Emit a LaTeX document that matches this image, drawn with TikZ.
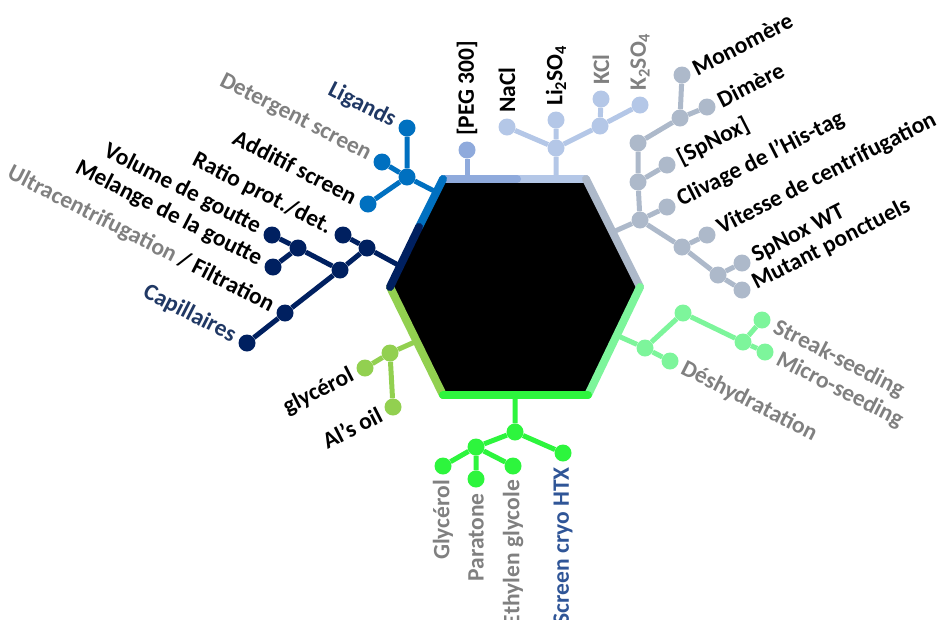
\documentclass[tikz,border=0pt]{standalone}
\usepackage{fontspec}
\setmainfont{Carlito}
\usepackage{tikz}
\usetikzlibrary{positioning}
\definecolor{ligblue}{HTML}{0070C0}
\definecolor{capnavy}{HTML}{002060}
\definecolor{pegblue}{HTML}{8FAADC}
\definecolor{saltblue}{HTML}{B4C7E7}
\definecolor{protslate}{HTML}{ADB9CA}
\definecolor{seedmint}{HTML}{7DF59B}
\definecolor{cryogreen}{HTML}{2DF53D}
\definecolor{oilolive}{HTML}{92D050}
\definecolor{txtgray}{HTML}{808080}
\definecolor{txtnavy}{HTML}{203864}
\definecolor{txtblue}{HTML}{2F5597}

\begin{document}
\begin{tikzpicture}[
  x=1pt, y=-1pt,
  dot/.style={circle, fill=#1, inner sep=0pt, minimum size=17pt},
  dot/.default={ligblue},
  twig/.style={draw=#1, line width=5pt},
  rim/.style={draw=#1, line width=8pt, line cap=round},
  lbl/.style={font=\fontsize{23.5}{25}\selectfont\bfseries, inner sep=1pt, text=#1},
  lbl/.default={black},
  tagNW/.style={rotate=-27, anchor=east, xshift=-13pt},
  tagNE/.style={rotate=27, anchor=west, xshift=12pt},
  tagSE/.style={rotate=-27, anchor=west, xshift=13pt},
  tagSW/.style={rotate=27, anchor=east, xshift=-13pt},
  tagN/.style={rotate=90, anchor=west, xshift=13pt},
  tagS/.style={rotate=90, anchor=east, xshift=-13pt},
]
  \useasboundingbox (0,0) rectangle (939,619);

  % Hexagon corners
  \coordinate (hTL) at (443,179);
  \coordinate (hT)  at (517,179);
  \coordinate (hTR) at (586,179);
  \coordinate (hR)  at (640,287);
  \coordinate (hBR) at (588,395);
  \coordinate (hBL) at (443,395);
  \coordinate (hL)  at (390,287);
  \coordinate (hLm) at (419,227);

  % Ligands (upper left)
  \coordinate (ligrim) at (436,192);
  \node[dot=ligblue] (ligj) at (407,177) {};
  \node[dot=ligblue] (lig) at (407,128) {};
  \node[dot=ligblue] (det) at (382,162) {};
  \node[dot=ligblue] (add) at (368,204) {};
  \draw[twig=ligblue] (ligrim) -- (ligj) (ligj) -- (lig) (ligj) -- (det) (ligj) -- (add);
  \node[lbl=txtnavy, tagNW] (liglbl) at (lig) {Ligands};
  \node[lbl=txtgray, tagNW] (detlbl) at (det) {Detergent screen};
  \node[lbl, tagNW] (addlbl) at (add) {Additif screen};

  % Capillaires (left)
  \coordinate (caprim) at (400,266);
  \node[dot=capnavy] (capB) at (367,248) {};
  \node[dot=capnavy] (ratio) at (343,235) {};
  \node[dot=capnavy] (capC) at (340,270) {};
  \node[dot=capnavy] (capA) at (298,248) {};
  \node[dot=capnavy] (vol) at (272,235) {};
  \node[dot=capnavy] (mel) at (273,267) {};
  \node[dot=capnavy] (filt) at (285,313) {};
  \node[dot=capnavy] (capi) at (247,343) {};
  \draw[twig=capnavy] (caprim) -- (capB) (capB) -- (ratio) (capB) -- (capC)
    (capC) -- (capA) (capA) -- (vol) (capA) -- (mel) (capC) -- (filt) (filt) -- (capi);
  \node[lbl, tagNW] (ratiolbl) at (ratio) {Ratio prot./det.};
  \node[lbl, tagNW] (vollbl) at (vol) {Volume de goutte};
  \node[lbl, tagNW] (mellbl) at (mel) {Melange de la goutte};
  \node[lbl, tagNW] (filtlbl) at (filt) {\textcolor{txtgray}{Ultracentrifugation} / Filtration};
  \node[lbl=txtnavy, tagNW] (capilbl) at (capi) {Capillaires};

  % PEG and salts (top)
  \coordinate (pegrim) at (467,179);
  \node[dot=pegblue] (peg) at (467,150) {};
  \draw[twig=pegblue] (pegrim) -- (peg);
  \coordinate (saltrim) at (556,179);
  \node[dot=saltblue] (saltj) at (556,148) {};
  \node[dot=saltblue] (nacl) at (507,127) {};
  \node[dot=saltblue] (li) at (556,120) {};
  \node[dot=saltblue] (kj) at (600,126) {};
  \node[dot=saltblue] (kcl) at (601,99) {};
  \node[dot=saltblue] (kso) at (640,105) {};
  \draw[twig=saltblue] (saltrim) -- (saltj) (saltj) -- (nacl) (saltj) -- (li)
    (saltj) -- (kj) (kj) -- (kcl) (kj) -- (kso);
  \node[lbl, tagN] (peglbl) at (peg) {[PEG 300]};
  \node[lbl, tagN] (nacllbl) at (nacl) {NaCl};
  \node[lbl, tagN] (lilbl) at (li) {Li\textsubscript{2}SO\textsubscript{4}};
  \node[lbl=txtgray, tagN] (kcllbl) at (kcl) {KCl};
  \node[lbl=txtgray, tagN] (ksolbl) at (kso) {K\textsubscript{2}SO\textsubscript{4}};

  % Protein (upper right)
  \coordinate (protrim) at (613,232);
  \node[dot=protslate] (protP) at (640,220) {};
  \node[dot=protslate] (protO) at (638,182) {};
  \node[dot=protslate] (protN) at (638,143) {};
  \node[dot=protslate] (protM) at (680,118) {};
  \node[dot=protslate] (mono) at (682,75) {};
  \node[dot=protslate] (dim) at (707,107) {};
  \node[dot=protslate] (spn) at (667,165) {};
  \node[dot=protslate] (cliv) at (667,207) {};
  \node[dot=protslate] (protQ) at (682,247) {};
  \node[dot=protslate] (vit) at (707,235) {};
  \node[dot=protslate] (protR) at (718,275) {};
  \node[dot=protslate] (wt) at (742,263) {};
  \node[dot=protslate] (mut) at (742,290) {};
  \draw[twig=protslate] (protrim) -- (protP) (protP) -- (protO) (protO) -- (protN)
    (protN) -- (protM) (protM) -- (mono) (protM) -- (dim) (protO) -- (spn)
    (protP) -- (cliv) (protP) -- (protQ) (protQ) -- (vit) (protQ) -- (protR)
    (protR) -- (wt) (protR) -- (mut);
  \node[lbl, tagNE] (monolbl) at (mono) {Monomère};
  \node[lbl, tagNE] (dimlbl) at (dim) {Dimère};
  \node[lbl, tagNE] (spnlbl) at (spn) {[SpNox]};
  \node[lbl, tagNE] (clivlbl) at (cliv) {Clivage de l’His-tag};
  \node[lbl, tagNE] (vitlbl) at (vit) {Vitesse de centrifugation};
  \node[lbl, tagNE] (wtlbl) at (wt) {SpNox WT};
  \node[lbl, tagNE] (mutlbl) at (mut) {Mutant ponctuels};

  % Seeding (lower right)
  \coordinate (seedrim) at (616,335);
  \node[dot=seedmint] (seedS) at (645,348) {};
  \node[dot=seedmint] (dehyd) at (670,361) {};
  \node[dot=seedmint] (seedT) at (683,313) {};
  \node[dot=seedmint] (seedU) at (743,342) {};
  \node[dot=seedmint] (streak) at (762,320) {};
  \node[dot=seedmint] (micro) at (765,352) {};
  \draw[twig=seedmint] (seedrim) -- (seedS) (seedS) -- (dehyd) (seedS) -- (seedT)
    (seedT) -- (seedU) (seedU) -- (streak) (seedU) -- (micro);
  \node[lbl=txtgray, tagSE] (streaklbl) at (streak) {Streak-seeding};
  \node[lbl=txtgray, tagSE] (microlbl) at (micro) {Micro-seeding};
  \node[lbl=txtgray, tagSE] (dehydlbl) at (dehyd) {Déshydratation};

  % Oils (lower left)
  \coordinate (oilrim) at (417,341);
  \node[dot=oilolive] (oilV) at (390,353) {};
  \node[dot=oilolive] (glyc) at (365,368) {};
  \node[dot=oilolive] (alsoil) at (393,407) {};
  \draw[twig=oilolive] (oilrim) -- (oilV) (oilV) -- (glyc) (oilV) -- (alsoil);
  \node[lbl, tagSW] (glyclbl) at (glyc) {glycérol};
  \node[lbl, tagSW] (alsoillbl) at (alsoil) {Al’s oil};

  % Cryo (bottom)
  \coordinate (cryorim) at (515,395);
  \node[dot=cryogreen] (cryoW) at (515,432) {};
  \node[dot=cryogreen] (cryoX) at (476,447) {};
  \node[dot=cryogreen] (glycB) at (443,466) {};
  \node[dot=cryogreen] (parat) at (476,479) {};
  \node[dot=cryogreen] (ethyl) at (513,466) {};
  \node[dot=cryogreen] (htx) at (563,453) {};
  \draw[twig=cryogreen] (cryorim) -- (cryoW) (cryoW) -- (cryoX) (cryoW) -- (htx)
    (cryoX) -- (glycB) (cryoX) -- (parat) (cryoX) -- (ethyl);
  \node[lbl=txtgray, tagS] (glycBlbl) at (glycB) {Glycérol};
  \node[lbl=txtgray, tagS] (paratlbl) at (parat) {Paratone};
  \node[lbl=txtgray, tagS] (ethyllbl) at (ethyl) {Ethylen glycole};
  \node[lbl=txtblue, tagS] (htxlbl) at (htx) {Screen cryo HTX};

  % Hexagon
  \fill (hTL) -- (hTR) -- (hR) -- (hBR) -- (hBL) -- (hL) -- cycle;
  \draw[rim=saltblue] (hT) -- (hTR);
  \draw[rim=pegblue] (hTL) -- (hT);
  \draw[rim=protslate] (hTR) -- (hR);
  \draw[rim=seedmint] (hR) -- (hBR);
  \draw[rim=oilolive] (hBL) -- (hL);
  \draw[rim=cryogreen] (hBR) -- (hBL);
  \draw[rim=ligblue] (hLm) -- (hTL);
  \draw[rim=capnavy] (hL) -- (hLm);

\end{tikzpicture}
\end{document}
